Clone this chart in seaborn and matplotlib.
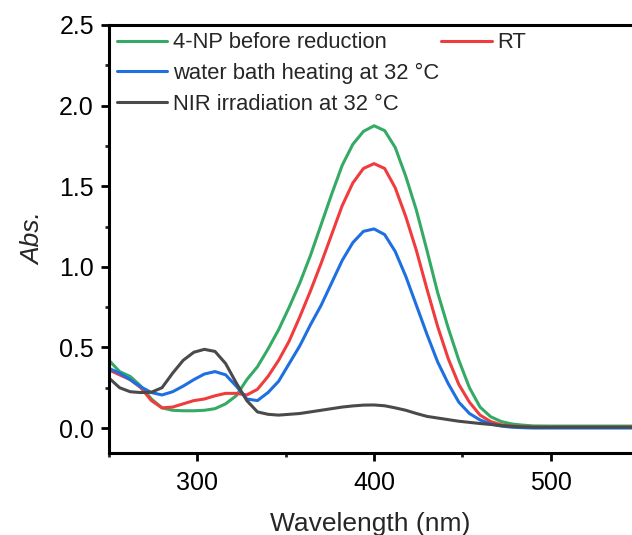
import matplotlib
matplotlib.use("Agg")
import matplotlib.pyplot as plt
from matplotlib.lines import Line2D
from matplotlib.ticker import MultipleLocator
import seaborn as sns
import pandas as pd

# wavelength grid (nm)
wavelength = [250, 256, 262, 268, 274, 280, 286, 292, 298, 304, 310, 316, 322, 328,
              334, 340, 346, 352, 358, 364, 370, 376, 382, 388, 394, 400, 406, 412,
              418, 424, 430, 436, 442, 448, 454, 460, 466, 472, 478, 484, 490, 500,
              520, 546]

abs_4np = [0.42, 0.35, 0.32, 0.26, 0.18, 0.125, 0.11, 0.107, 0.107, 0.11, 0.12, 0.15,
           0.20, 0.30, 0.38, 0.49, 0.61, 0.75, 0.90, 1.07, 1.26, 1.45, 1.63, 1.76,
           1.84, 1.875, 1.845, 1.74, 1.56, 1.35, 1.10, 0.84, 0.62, 0.42, 0.25, 0.13,
           0.07, 0.04, 0.025, 0.018, 0.013, 0.012, 0.012, 0.012]

abs_rt = [0.36, 0.33, 0.30, 0.25, 0.17, 0.125, 0.13, 0.15, 0.17, 0.18, 0.20, 0.215,
          0.215, 0.205, 0.24, 0.32, 0.42, 0.54, 0.69, 0.85, 1.02, 1.20, 1.38, 1.52,
          1.61, 1.64, 1.61, 1.49, 1.31, 1.10, 0.86, 0.63, 0.43, 0.27, 0.16, 0.08,
          0.04, 0.02, 0.012, 0.008, 0.006, 0.005, 0.005, 0.005]

abs_water = [0.37, 0.34, 0.30, 0.255, 0.22, 0.205, 0.225, 0.26, 0.30, 0.335, 0.35,
             0.33, 0.26, 0.18, 0.17, 0.22, 0.29, 0.40, 0.51, 0.64, 0.76, 0.90, 1.04,
             1.15, 1.22, 1.235, 1.20, 1.095, 0.94, 0.76, 0.58, 0.41, 0.275, 0.16,
             0.09, 0.05, 0.025, 0.012, 0.005, 0.002, 0.0, 0.0, 0.0, 0.0]

abs_nir = [0.31, 0.25, 0.225, 0.22, 0.222, 0.25, 0.34, 0.42, 0.47, 0.488, 0.475, 0.40,
           0.28, 0.17, 0.10, 0.085, 0.08, 0.085, 0.09, 0.10, 0.11, 0.12, 0.13, 0.137,
           0.142, 0.143, 0.138, 0.125, 0.11, 0.09, 0.072, 0.062, 0.052, 0.042, 0.035,
           0.028, 0.022, 0.015, 0.01, 0.007, 0.005, 0.005, 0.005, 0.005]

labels = ["4-NP before reduction", "RT", "water bath heating at 32 \u00b0C",
          "NIR irradiation at 32 \u00b0C"]
colors = ["#35aa64", "#f03c3c", "#1e6fe0", "#4a4a4a"]

df = pd.concat([
    pd.DataFrame({"Wavelength": wavelength, "Abs": vals, "Sample": lab})
    for vals, lab in zip([abs_4np, abs_rt, abs_water, abs_nir], labels)
])

sns.set_theme(style="ticks")
plt.rcParams["font.family"] = ["Liberation Sans", "DejaVu Sans"]

fig = plt.figure(figsize=(6.32, 5.35), dpi=100)
ax = fig.add_axes([109 / 632, 1 - 453 / 535, 1 - 109 / 632, 428 / 535])

sns.lineplot(data=df, x="Wavelength", y="Abs", hue="Sample", hue_order=labels,
             palette=colors, estimator=None, linewidth=2.2, ax=ax, legend=False)

ax.set_xlim(250, 546)
ax.set_ylim(-0.155, 2.5)
ax.xaxis.set_major_locator(MultipleLocator(100))
ax.xaxis.set_minor_locator(MultipleLocator(50))
ax.yaxis.set_major_locator(MultipleLocator(0.5))
ax.yaxis.set_minor_locator(MultipleLocator(0.25))
ax.yaxis.set_major_formatter(matplotlib.ticker.FormatStrFormatter("%.1f"))

for side in ["left", "bottom", "top"]:
    ax.spines[side].set_linewidth(2.2)
    ax.spines[side].set_color("black")
ax.spines["right"].set_visible(False)
ax.tick_params(which="major", direction="out", length=5.8, width=2, labelsize=18,
               colors="black")
ax.tick_params(which="minor", direction="out", length=3, width=2)
ax.tick_params(axis="y", which="major", pad=5)
ax.tick_params(axis="x", which="major", pad=7.5)

ax.set_xlabel("Wavelength (nm)", fontsize=19, labelpad=12)
ax.set_ylabel("Abs.", fontsize=19, fontstyle="italic", labelpad=10)

# legend: first column three entries, RT on its own in the second column
handles = [Line2D([], [], color=c, lw=2.2) for c in colors]
blank = Line2D([], [], lw=0)
order = [0, 2, 3, 1]
hs = [handles[i] for i in order] + [blank, blank]
ls = [labels[i] for i in order] + ["", ""]
ax.legend(hs, ls, ncol=2, loc="upper left", bbox_to_anchor=(0.015, 0.983),
          frameon=False, fontsize=15.8, handlelength=2.3, handletextpad=0.25,
          labelspacing=0.44, columnspacing=0.1, borderpad=0, borderaxespad=0)

fig.savefig("out.png", dpi=100)
